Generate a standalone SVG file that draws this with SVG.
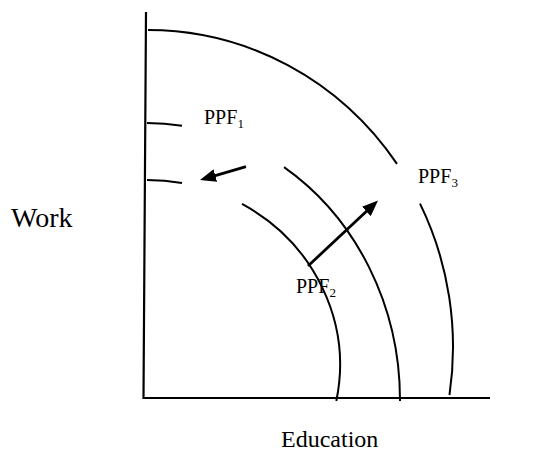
<svg xmlns="http://www.w3.org/2000/svg" width="547" height="456" viewBox="0 0 547 456">
<style>
.ax{stroke:#000;stroke-width:2.2;fill:none}
.arc{stroke:#000;stroke-width:2;fill:none}
.arr{stroke:#000;stroke-width:2.8;fill:none}
.lbl{font-family:"Liberation Serif","Times New Roman",serif;fill:#000}
</style>
<defs>
<marker id="ah" viewBox="0 0 16 13" refX="1" refY="6.5" markerWidth="16" markerHeight="13" markerUnits="userSpaceOnUse" orient="auto">
<path d="M0,0 L16,6.5 L0,13 Z" fill="#000"/>
</marker>
</defs>
<rect width="547" height="456" fill="#fff"/>
<g id="axes">
<path class="ax" d="M146,12 L143.5,398 L490,398"/>
</g>
<g id="ppf-curves">
<path class="arc" d="M148,30 A305,317 0 0 1 397,163.93"/>
<path class="arc" d="M420,203.58 A305,317 0 0 1 449.49,395"/>
<path class="arc" d="M147,123 A253,277 0 0 1 182,125.66"/>
<path class="arc" d="M284,167.13 A253,277 0 0 1 400,400 L400,401"/>
<path class="arc" d="M147,180 A193,185 0 0 1 182,183.07"/>
<path class="arc" d="M242,203.96 A193,185 0 0 1 336.31,401"/>
</g>
<g id="connectors">
<line class="arr" x1="246" y1="166.7" x2="214.4" y2="175.83" marker-end="url(#ah)"/>
<line class="arr" x1="308" y1="266" x2="367.05" y2="210.75" marker-end="url(#ah)"/>
</g>
<g id="label-ppf1"><text class="lbl" x="204" y="123.5" font-size="20">PPF<tspan font-size="13" dy="4">1</tspan></text></g>
<g id="label-ppf2"><text class="lbl" x="296" y="293" font-size="20">PPF<tspan font-size="13" dy="4">2</tspan></text></g>
<g id="label-ppf3"><text class="lbl" x="418" y="183.3" font-size="20">PPF<tspan font-size="13" dy="4">3</tspan></text></g>
<g id="label-work"><text class="lbl" x="11" y="227" font-size="28">Work</text></g>
<g id="label-education"><text class="lbl" x="281" y="447" font-size="24">Education</text></g>
</svg>
